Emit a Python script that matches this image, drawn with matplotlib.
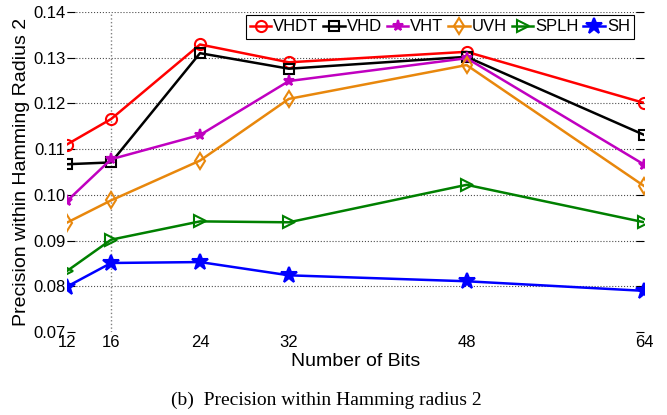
import matplotlib
matplotlib.use('Agg')
import matplotlib.pyplot as plt

# Данні з графіка
bits = [12, 16, 24, 32, 48, 64]
vhdt = [0.1110, 0.1166, 0.1329, 0.1290, 0.1313, 0.1201]
vhd = [0.1067, 0.1071, 0.1310, 0.1276, 0.1302, 0.1131]
vht = [0.0986, 0.1078, 0.1131, 0.1249, 0.1299, 0.1066]
uvh = [0.0939, 0.0988, 0.1075, 0.1210, 0.1284, 0.1019]
splh = [0.0833, 0.0902, 0.0942, 0.0940, 0.1022, 0.0940]
sh = [0.0799, 0.0851, 0.0853, 0.0824, 0.0811, 0.0790]
yticks = [0.07, 0.08, 0.09, 0.10, 0.11, 0.12, 0.13, 0.14]

plt.rcParams['font.family'] = ['Liberation Sans', 'DejaVu Sans']

fig = plt.figure(figsize=(6.67, 4.15), dpi=100)
ax = fig.add_axes([0.1, 0.2, 0.866, 0.771])

series = [
    ('VHDT', vhdt, 'red', 'o', 8, 'none'),
    ('VHD', vhd, 'black', 's', 7, 'none'),
    ('VHT', vht, '#c000c0', '*', 8, '#c000c0'),
    ('UVH', uvh, '#e8870c', 'd', 8, 'none'),
    ('SPLH', splh, 'green', '>', 9, 'none'),
    ('SH', sh, 'blue', '*', 12, 'blue'),
]
for name, vals, c, m, ms, fc in series:
    ax.plot(bits, vals, color=c, marker=m, markersize=ms, markerfacecolor=fc,
            markeredgewidth=1.5, linewidth=1.8, label=name)

ax.set_xlim(12, 64)
ax.set_ylim(0.07, 0.14)
ax.set_xticks(bits)
ax.set_yticks(yticks)
ax.set_yticklabels(['%.2f' % v for v in yticks])
for v in yticks[1:]:
    ax.axhline(v, color='0.3', linestyle=':', linewidth=0.8, zorder=0)
ax.axvline(16, color='0.5', linestyle=':', linewidth=1.0, zorder=0)

for s in ax.spines.values():
    s.set_visible(False)
ax.tick_params(axis='y', direction='in', length=6, right=True, labelsize=12, pad=1)
ax.tick_params(axis='x', length=0, labelsize=12, pad=2)

ax.set_xlabel('Number of Bits', fontsize=14, labelpad=2)
ax.set_ylabel('Precision within Hamming Radius 2', fontsize=14, labelpad=2)

leg = ax.legend(ncol=6, loc='upper right', bbox_to_anchor=(0.985, 0.995),
                fontsize=12, handlelength=1.3, handletextpad=0.1,
                columnspacing=0.3, borderpad=0.25, borderaxespad=0.1,
                fancybox=False, framealpha=1, edgecolor='black')
leg.get_frame().set_linewidth(0.8)

fig.text(0.49, 0.025, '(b)  Precision within Hamming radius 2',
         family='Liberation Serif', fontsize=14, ha='center')

fig.savefig('out.png', dpi=100)
